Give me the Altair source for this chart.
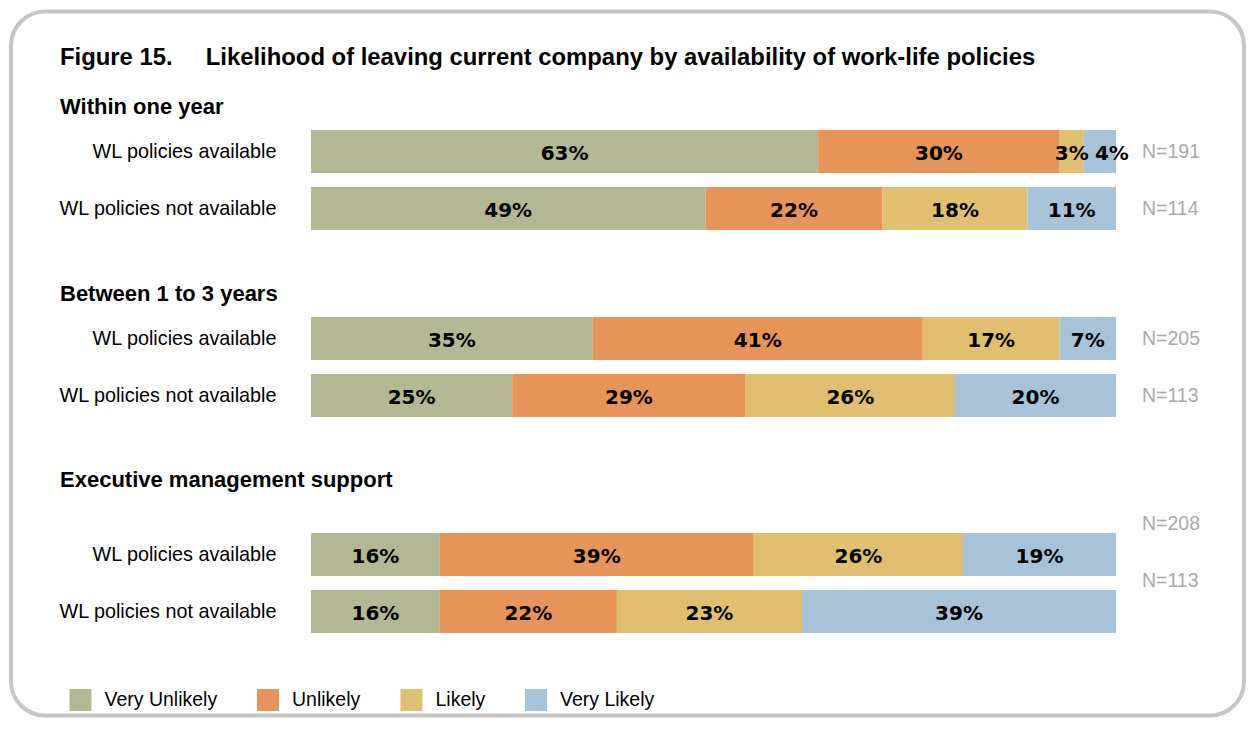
import altair as alt
import pandas as pd

# ---------------- data ----------------
figure_title = "Figure 15.\u00a0\u00a0\u00a0\u00a0\u00a0Likelihood of leaving current company by availability of work-life policies"
sections = ["Within one year", "Between 1 to 3 years", "Executive management support"]
groups = ["WL policies available", "WL policies not available"]
categories = ["Very Unlikely", "Unlikely", "Likely", "Very Likely"]
colors = ["#b3b892", "#e69458", "#e0bf6e", "#a7c3da"]

within_available = [63, 30, 3, 4]
within_not_available = [49, 22, 18, 11]
between_available = [35, 41, 17, 7]
between_not_available = [25, 29, 26, 20]
exec_available = [16, 39, 26, 19]
exec_not_available = [16, 22, 23, 39]

n_within = [191, 114]
n_between = [205, 113]
n_exec = [208, 113]

# ---------------- styling ----------------
FONT_N = "Liberation Sans, Arial, Helvetica, sans-serif"
FONT_T = "Liberation Sans, Arial, Helvetica, sans-serif"
FONT_PCT = "DejaVu Sans, Verdana, sans-serif"
BAR_W = 805
STEP = 57
P_IN = 14 / STEP


def seg_frame(rows):
    recs = []
    for g, vals in zip(groups, rows):
        start = 0
        for i, (c, v) in enumerate(zip(categories, vals)):
            recs.append(dict(group=g, category=c, order=i, value=v, start=start,
                             end=start + v, mid=start + v / 2, label=f"{v}%",
                             nudge=bool(i == len(vals) - 1 and v < 5)))
            start += v
    return pd.DataFrame(recs)


def n_frame(ns):
    return pd.DataFrame({"group": groups, "n": [f"N={n}" for n in ns], "pos": [100, 100]})


color = alt.Color(
    "category:N",
    scale=alt.Scale(domain=categories, range=colors),
    legend=alt.Legend(
        title=None, orient="none", direction="horizontal",
        legendX=-241.5, legendY=566,
        symbolType="square", symbolSize=484, symbolStrokeWidth=0, symbolOpacity=1,
        labelFont=FONT_N, labelFontSize=19.5, labelColor="#000", labelOffset=13,
        columnPadding=39.5, padding=0, labelLimit=400,
    ),
)


def panel(rows, ns, title, height, scale_kw, n_dy):
    df = seg_frame(rows)
    ndf = n_frame(ns)
    y = alt.Y(
        "group:N", sort=groups, title=None,
        scale=alt.Scale(domain=groups, **scale_kw),
        axis=alt.Axis(labelFont=FONT_N, labelFontSize=19.8, labelColor="#000",
                      labelPadding=35, labelLimit=400, ticks=False, domain=False,
                      grid=False),
    )
    x = alt.X("start:Q", scale=alt.Scale(domain=[0, 100], nice=False), axis=None)
    base = alt.Chart(df)
    bars = base.mark_bar(strokeWidth=0).encode(
        x=x, x2="end:Q", y=y, color=color,
        order=alt.Order("order:Q"),
    )
    txt = base.transform_filter("!datum.nudge").mark_text(
        font=FONT_PCT, fontWeight="bold", fontSize=20, color="#000", dy=2.5
    ).encode(x=alt.X("mid:Q"), y=y, text="label:N")
    txt_n = base.transform_filter("datum.nudge").mark_text(
        font=FONT_PCT, fontWeight="bold", fontSize=20, color="#000", dy=2.5, dx=12
    ).encode(x=alt.X("mid:Q"), y=y, text="label:N")
    nl = alt.Chart(ndf).mark_text(
        font=FONT_N, fontSize=19.5, color="#a9a9a9", align="left", dx=26, dy=n_dy
    ).encode(x=alt.X("pos:Q"), y=y, text="n:N")
    return alt.layer(bars, txt, txt_n, nl).properties(
        width=BAR_W, height=height, title=title
    )


def sec_title(text, offset):
    return alt.Title(text, anchor="start", frame="group", dx=-251, offset=offset,
                     font=FONT_N, fontSize=22, fontWeight="bold", color="#000")


p1_title = alt.Title(
    figure_title, subtitle=sections[0], anchor="start", frame="group", dx=-251,
    offset=5, font=FONT_T, fontSize=23.85, fontWeight="bold", color="#000",
    subtitleFont=FONT_N, subtitleFontSize=22, subtitleFontWeight="bold",
    subtitleColor="#000", subtitlePadding=27,
)

std_scale = dict(paddingInner=P_IN, paddingOuter=P_IN / 2)
p1 = panel([within_available, within_not_available], n_within, p1_title,
           114, std_scale, 0)
p2 = panel([between_available, between_not_available], n_between,
           sec_title(sections[1], 4), 114, std_scale, 0)
p3 = panel([exec_available, exec_not_available], n_exec,
           sec_title(sections[2], 5), 136,
           dict(paddingInner=P_IN, paddingOuter=(136 / STEP - 2 + P_IN) / 2, align=1),
           -31)

# decorative rounded frame around the whole figure
frame = alt.Chart(pd.DataFrame({"k": [0]})).mark_rect(
    fillOpacity=0, stroke="#c6c6c6", strokeWidth=4, cornerRadius=34
).encode(
    x=alt.value(-300), x2=alt.value(933),
    y=alt.value(-694.5), y2=alt.value(9.5),
).properties(width=BAR_W, height=1)

chart = alt.vconcat(p1, p2, p3, frame, spacing=73, bounds="flush").resolve_scale(
    y="independent", color="shared"
).properties(
    padding={"left": 1, "top": 1, "right": 0, "bottom": 1}
).configure(font=FONT_T).configure_view(stroke="transparent", strokeWidth=0)

chart.save("out.html", embed_options={"renderer": "svg", "actions": False})
